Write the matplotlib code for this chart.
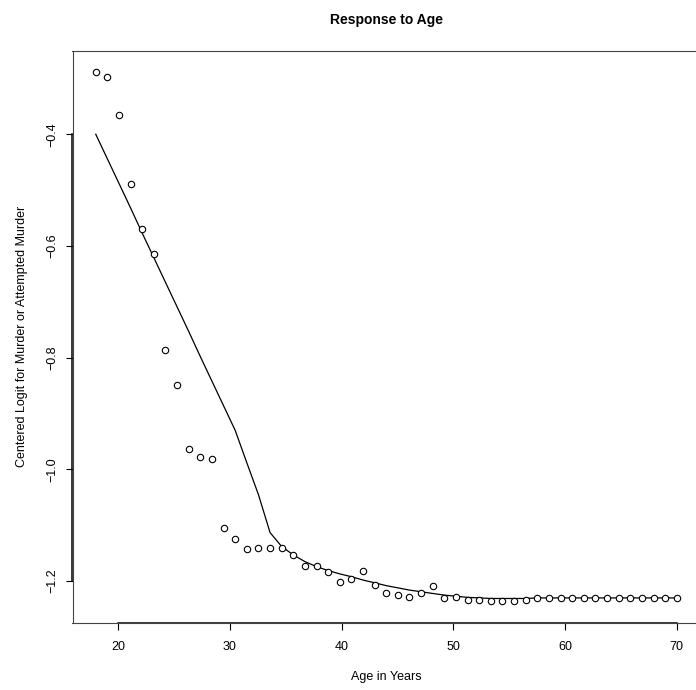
import matplotlib
matplotlib.use('Agg')
import matplotlib.pyplot as plt

plt.rcParams['font.family'] = ['Liberation Sans', 'DejaVu Sans']

# ages at which the logit was computed (one step is 1.04 years)
ages = [18.0, 19.04, 20.08, 21.12, 22.16, 23.2, 24.24, 25.28, 26.32, 27.36,
        28.4, 29.44, 30.48, 31.52, 32.56, 33.6, 34.64, 35.68, 36.72, 37.76,
        38.8, 39.84, 40.88, 41.92, 42.96, 44.0, 45.04, 46.08, 47.12, 48.16,
        49.2, 50.24, 51.28, 52.32, 53.36, 54.4, 55.44, 56.48, 57.52, 58.56,
        59.6, 60.64, 61.68, 62.72, 63.76, 64.8, 65.84, 66.88, 67.92, 68.96,
        70.0]

# observed centered logits (open circles)
observed = [-0.289, -0.297, -0.365, -0.489, -0.569, -0.614, -0.786, -0.849,
            -0.963, -0.978, -0.981, -1.105, -1.125, -1.142, -1.141, -1.140,
            -1.141, -1.154, -1.173, -1.173, -1.184, -1.202, -1.197, -1.182,
            -1.207, -1.222, -1.225, -1.229, -1.221, -1.209, -1.230, -1.228,
            -1.234, -1.234, -1.236, -1.236, -1.235, -1.234, -1.230, -1.230,
            -1.230, -1.230, -1.230, -1.230, -1.230, -1.230, -1.230, -1.230,
            -1.230, -1.230, -1.230]

# fitted response (solid line)
fitted = [-0.400, -0.444, -0.488, -0.532, -0.577, -0.621, -0.665, -0.709,
          -0.753, -0.798, -0.842, -0.886, -0.930, -0.988, -1.045, -1.113,
          -1.138, -1.153, -1.165, -1.174, -1.181, -1.187, -1.192, -1.198,
          -1.203, -1.208, -1.212, -1.216, -1.219, -1.222, -1.225, -1.227,
          -1.229, -1.230, -1.231, -1.231, -1.231, -1.231, -1.230, -1.230,
          -1.230, -1.230, -1.230, -1.230, -1.230, -1.230, -1.230, -1.230,
          -1.230, -1.230, -1.230]

xticks = [20, 30, 40, 50, 60, 70]
yticks = [-1.2, -1.0, -0.8, -0.6, -0.4]

W, H = 696, 690
fig = plt.figure(figsize=(W / 100, H / 100), dpi=100)
# plot region like R's: right edge falls just outside the picture
left, right, top, bottom = 72.5, 700, 51, 622.5
ax = fig.add_axes([left / W, (H - bottom) / H, (right - left) / W, (bottom - top) / H])

ax.plot(ages, fitted, color='black', lw=0.9)
ax.plot(ages, observed, 'o', mfc='white', mec='black', ms=4.6, mew=0.8)

ax.set_xlim(15.92, 72.08)
ax.set_ylim(-1.274, -0.251)

ax.set_xticks(xticks)
ax.set_yticks(yticks)
ax.set_xticklabels([str(t) for t in xticks])
ax.set_yticklabels(['\u22121.2', '\u22121.0', '\u22120.8', '\u22120.6', '\u22120.4'],
                   rotation=90, va='center')
ax.tick_params(direction='out', length=5, width=0.8, labelsize=9, colors='black')
ax.tick_params(axis='x', pad=8)
ax.tick_params(axis='y', pad=5)

for s in ax.spines.values():
    s.set_color('#444444')
    s.set_linewidth(0.8)

# R style axis lines running from first to last tick
ax.plot([xticks[0], xticks[-1]], [-1.274, -1.274], color='black', lw=1.1, clip_on=False)
ax.plot([15.92, 15.92], [yticks[0], yticks[-1]], color='black', lw=1.1, clip_on=False)

mid = (left + right) / 2
fig.text(mid / W, 1 - 20 / H, 'Response to Age',
         ha='center', va='center', fontsize=10, fontweight='bold')
fig.text(mid / W, 1 - 677 / H, 'Age in Years', ha='center', va='center', fontsize=9)
fig.text(22 / W, 1 - 336.5 / H, 'Centered Logit for Murder or Attempted Murder',
         ha='center', va='center', rotation=90, fontsize=9)

fig.savefig('out.png', dpi=100)
